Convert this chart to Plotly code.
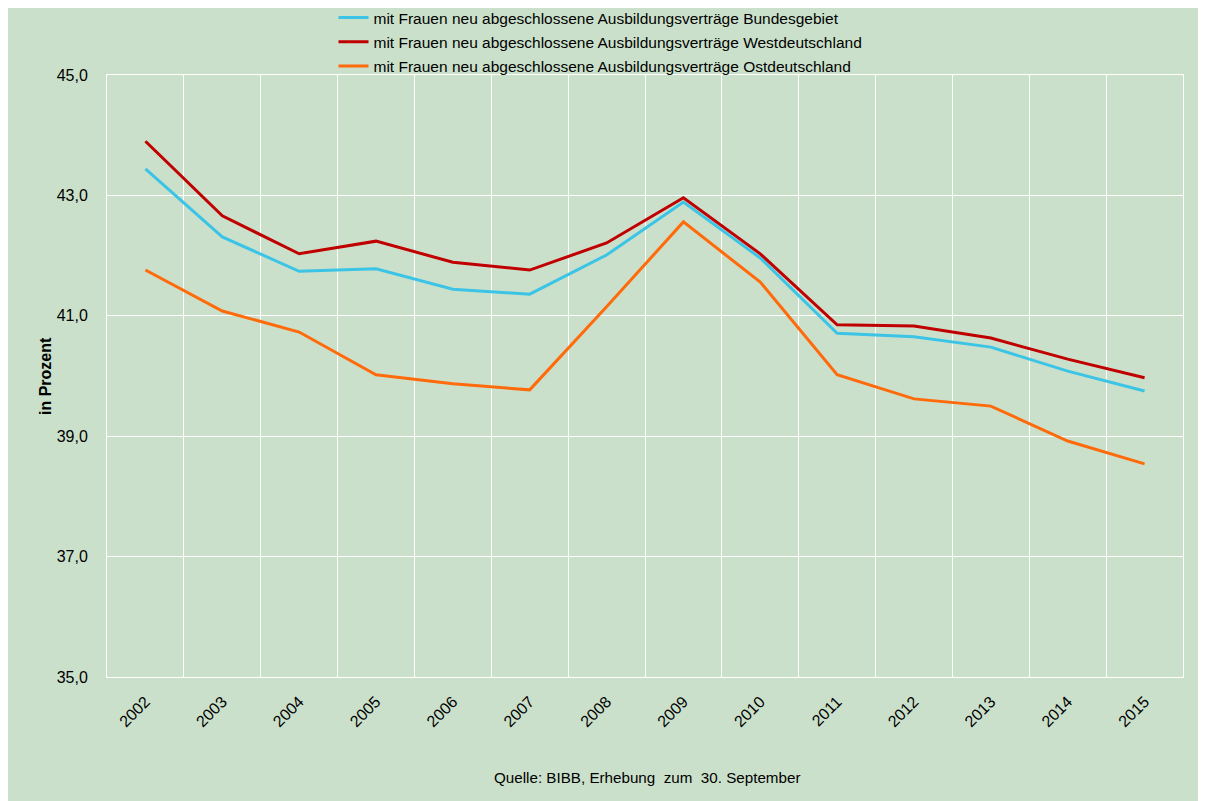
import plotly.graph_objects as go

years = [str(y) for y in range(2002, 2016)]
bund = [43.44, 42.31, 41.74, 41.78, 41.44, 41.36, 42.01, 42.89, 41.96, 40.71, 40.65, 40.48, 40.08, 39.75]
west = [43.90, 42.66, 42.03, 42.24, 41.89, 41.76, 42.21, 42.96, 42.03, 40.85, 40.83, 40.63, 40.28, 39.97]
ost = [41.76, 41.08, 40.73, 40.02, 39.87, 39.77, 41.15, 42.56, 41.56, 40.02, 39.62, 39.50, 38.92, 38.54]

names = [
    "mit Frauen neu abgeschlossene Ausbildungsverträge Bundesgebiet",
    "mit Frauen neu abgeschlossene Ausbildungsverträge Westdeutschland",
    "mit Frauen neu abgeschlossene Ausbildungsverträge Ostdeutschland",
]
colors = ["#3CC4E6", "#C00000", "#FF6A0A"]
y_ticks = [35, 37, 39, 41, 43, 45]

GREEN = "#CBE0CB"
W, H = 1198, 793
L, R, T, B = 99, 23, 67, 124
PW, PH = W - L - R, H - T - B

fig = go.Figure()
for i, (name, vals, col) in enumerate(zip(names, [bund, west, ost], colors)):
    fig.add_trace(go.Scatter(x=years, y=vals, name=name, mode="lines", legendgroup=str(i),
                             line=dict(color=col, width=3)))

fig.update_layout(
    width=W, height=H,
    margin=dict(l=L, r=R, t=T, b=B, autoexpand=False),
    paper_bgcolor=GREEN, plot_bgcolor=GREEN,
    separators=",.",
    font=dict(family="Liberation Sans, Arial, sans-serif", size=15, color="#000000"),
    showlegend=True,
    legend=dict(orientation="v", x=(325.5 - L) / PW, xanchor="left", y=1 + (T + 7) / PH,
                yanchor="top", bgcolor="rgba(0,0,0,0)", font=dict(size=15.5),
                traceorder="grouped", tracegroupgap=1, itemwidth=30),
    xaxis=dict(type="category", range=[-0.5, 13.5], tickson="boundaries",
               showgrid=True, gridcolor="white", gridwidth=1,
               showline=True, linecolor="white", linewidth=1, mirror=True,
               ticks="", tickangle=-45, tickfont=dict(size=16), ticklabelstandoff=8),
    yaxis=dict(range=[35, 45], tickvals=y_ticks, tickformat=".1f",
               showgrid=True, gridcolor="white", gridwidth=1,
               showline=True, linecolor="white", linewidth=1, mirror=True,
               zeroline=False, ticks="", tickfont=dict(size=16), ticklabelstandoff=15),
    annotations=[
        dict(text="<b>in Prozent</b>", xref="paper", yref="paper", textangle=-90,
             x=(37 - L) / PW, y=0.5, xanchor="center", yanchor="middle",
             showarrow=False, font=dict(size=16)),
        dict(text="Quelle: BIBB, Erhebung  zum  30. September", xref="paper", yref="paper",
             x=(639 - L) / PW, y=(669 - 769) / PH, xanchor="center", yanchor="middle",
             showarrow=False, font=dict(size=15.2)),
    ],
)

fig.write_html("out.html")
